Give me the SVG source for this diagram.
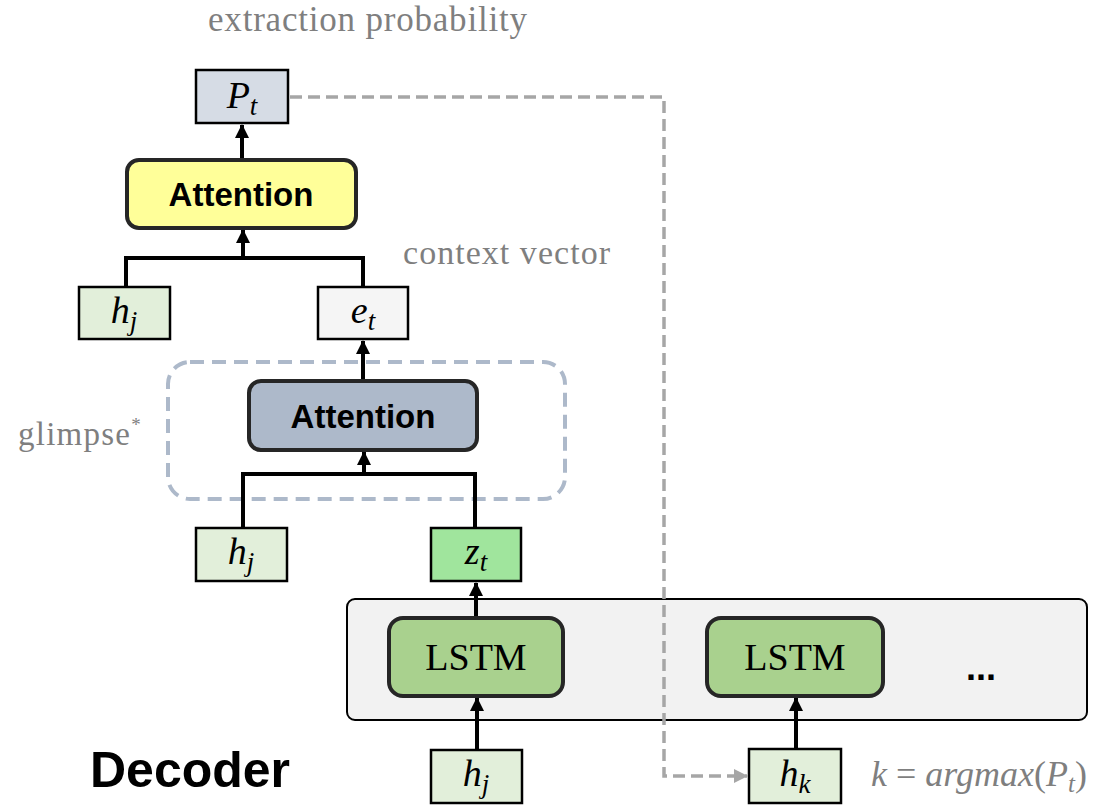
<svg xmlns="http://www.w3.org/2000/svg" width="1115" height="805" viewBox="0 0 1115 805">
<style>
.lbl{font-family:"Liberation Serif",serif;fill:#7f7f7f}
.math{font-family:"Liberation Serif",serif;font-style:italic;fill:#000;font-size:38px}
.sub{font-size:27px}
.att{font-family:"Liberation Sans",Arial,sans-serif;font-weight:bold;font-size:33px;fill:#000}
.lstm{font-family:"Liberation Serif",serif;font-size:38px;fill:#000}
.box{stroke:#000;stroke-width:2.5}
.rnd{stroke:#262626;stroke-width:4}
.conn{fill:none;stroke:#000;stroke-width:4}
</style>
<defs>
<marker id="ah" markerUnits="userSpaceOnUse" markerWidth="14" markerHeight="14" refX="13" refY="7" orient="auto">
<path d="M0,0 L14,7 L0,14 Z" fill="#000"/>
</marker>
<marker id="gh" markerUnits="userSpaceOnUse" markerWidth="14" markerHeight="14" refX="13" refY="7" orient="auto">
<path d="M0,0 L14,7 L0,14 Z" fill="#a6a6a6"/>
</marker>
</defs>

<g id="decoder-container">
<rect x="347" y="599" width="740" height="121" rx="8" fill="#f2f2f2" stroke="#000" stroke-width="2"/>
<text x="981" y="680" text-anchor="middle" font-family="Liberation Sans,Arial,sans-serif" font-weight="bold" font-size="36">...</text>
</g>

<g id="glimpse-box">
<rect x="168" y="362" width="397" height="137" rx="22" fill="none" stroke="#adb9ca" stroke-width="4" stroke-dasharray="14 8"/>
<text class="lbl" x="18" y="445" font-size="33"><tspan textLength="112">glimpse</tspan><tspan font-size="19" dy="-14">*</tspan></text>
</g>

<g id="connectors">
<line class="conn" x1="242" y1="159" x2="242" y2="125" marker-end="url(#ah)"/>
<path class="conn" d="M126,287 V258 H363 V287"/>
<line class="conn" x1="243" y1="258" x2="243" y2="230" marker-end="url(#ah)"/>
<line class="conn" x1="363" y1="381" x2="363" y2="341" marker-end="url(#ah)"/>
<path class="conn" d="M243,528 V474 H475 V528"/>
<line class="conn" x1="364" y1="474" x2="364" y2="452" marker-end="url(#ah)"/>
<line class="conn" x1="476" y1="618" x2="476" y2="583" marker-end="url(#ah)"/>
<line class="conn" x1="477" y1="750" x2="477" y2="698" marker-end="url(#ah)"/>
<line class="conn" x1="796" y1="749" x2="796" y2="698" marker-end="url(#ah)"/>
<path d="M290,97 H664 V776 H747" fill="none" stroke="#a6a6a6" stroke-width="3.5" stroke-dasharray="12 6" marker-end="url(#gh)"/>
</g>

<g id="p-t">
<rect class="box" x="196" y="70" width="92" height="53" fill="#d6dce5"/>
<text class="math" x="242" y="108" text-anchor="middle">P<tspan class="sub" dy="7">t</tspan></text>
<text class="lbl" x="208" y="31" font-size="35" textLength="319">extraction probability</text>
</g>

<g id="attention-top">
<rect class="rnd" x="127" y="160" width="229" height="68" rx="12" fill="#ffff99"/>
<text class="att" x="241" y="206" text-anchor="middle">Attention</text>
</g>

<g id="h-j-top">
<rect class="box" x="79" y="287" width="91" height="52" fill="#e2efda"/>
<text class="math" x="124" y="323" text-anchor="middle">h<tspan class="sub" dy="7">j</tspan></text>
</g>

<g id="e-t">
<rect class="box" x="318" y="287" width="90" height="52" fill="#f5f5f5"/>
<text class="math" x="363" y="323" text-anchor="middle">e<tspan class="sub" dy="7">t</tspan></text>
<text class="lbl" x="403" y="264" font-size="34" textLength="207">context vector</text>
</g>

<g id="attention-glimpse">
<rect class="rnd" x="249" y="381" width="228" height="69" rx="12" fill="#adb9ca"/>
<text class="att" x="363" y="428" text-anchor="middle">Attention</text>
</g>

<g id="h-j-mid">
<rect class="box" x="196" y="528" width="91" height="53" fill="#e2efda"/>
<text class="math" x="241" y="564" text-anchor="middle">h<tspan class="sub" dy="7">j</tspan></text>
</g>

<g id="z-t">
<rect class="box" x="431" y="528" width="90" height="53" fill="#a0e59d"/>
<text class="math" x="476" y="564" text-anchor="middle">z<tspan class="sub" dy="7">t</tspan></text>
</g>

<g id="lstm-1">
<rect class="rnd" x="389" y="618" width="174" height="78" rx="14" fill="#a9d18e"/>
<text class="lstm" x="476" y="670" text-anchor="middle">LSTM</text>
</g>

<g id="lstm-2">
<rect class="rnd" x="707" y="618" width="176" height="78" rx="14" fill="#a9d18e"/>
<text class="lstm" x="795" y="670" text-anchor="middle">LSTM</text>
</g>

<g id="h-j-bottom">
<rect class="box" x="431" y="750" width="91" height="53" fill="#e2efda"/>
<text class="math" x="476" y="786" text-anchor="middle">h<tspan class="sub" dy="7">j</tspan></text>
</g>

<g id="h-k">
<rect class="box" x="749" y="749" width="92" height="54" fill="#e2efda"/>
<text class="math" x="795" y="786" text-anchor="middle">h<tspan class="sub" dy="7">k</tspan></text>
<text class="lbl" x="871" y="786" font-size="36"><tspan font-style="italic">k</tspan> = <tspan font-style="italic">argmax</tspan>(<tspan font-style="italic">P</tspan><tspan font-style="italic" font-size="25" dy="6">t</tspan><tspan dy="-6">)</tspan></text>
</g>

<g id="decoder-label">
<text x="90" y="787" font-family="Liberation Sans,Arial,sans-serif" font-weight="bold" font-size="50" fill="#000">Decoder</text>
</g>
</svg>
